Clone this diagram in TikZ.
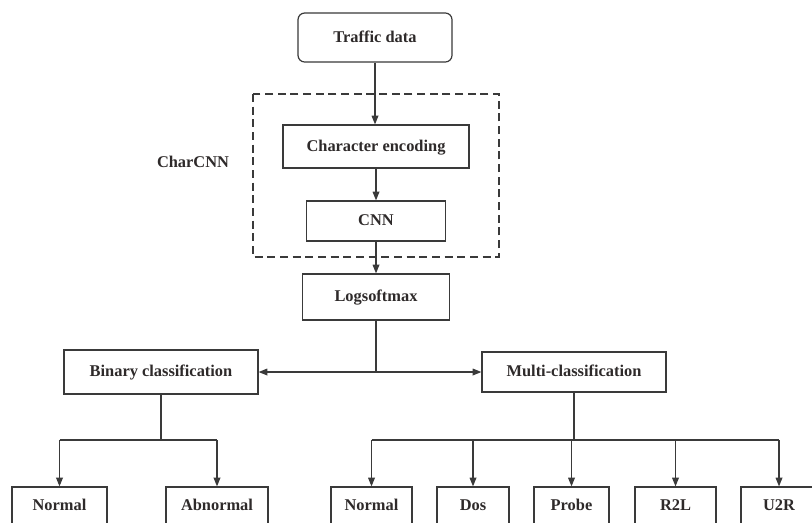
\documentclass[tikz,border=0pt]{standalone}
\usepackage{fontspec}
\setmainfont{Liberation Serif}
\usetikzlibrary{arrows.meta}
\definecolor{ln}{HTML}{3A3A3A}
\definecolor{tx}{HTML}{2E2A2A}
\tikzset{
  box/.style={draw=ln, line width=0.9pt, fill=white, inner sep=0pt, text=tx, text height=1.85ex, text depth=0.3ex, font=\bfseries\fontsize{12.3}{14}\selectfont},
  conn/.style={draw=ln, line width=0.9pt},
  arr/.style={conn, -{Triangle[length=6.5pt,width=5pt]}},
}
\begin{document}
\begin{tikzpicture}[x=0.75pt,y=-0.75pt]
\useasboundingbox (0,0) rectangle (812,522);
\clip (0,0) rectangle (812,522);
\fill[white] (0,0) rectangle (812,522);
% dashed group
\draw[ln, line width=0.9pt, dash pattern=on 6pt off 3.5pt] (253,94) rectangle (499,257);
\node[text=tx, font=\bfseries\fontsize{12.3}{14}\selectfont] (lab) at (193,162) {CharCNN};
% nodes
\node[box, rounded corners=5pt, minimum width=154*0.75pt, minimum height=49*0.75pt] (traffic) at (375,37.5) {Traffic data};
\node[box, minimum width=186*0.75pt, minimum height=43*0.75pt] (enc) at (376,146.5) {Character encoding};
\node[box, minimum width=139*0.75pt, minimum height=40*0.75pt] (cnn) at (376,221) {CNN};
\node[box, minimum width=147*0.75pt, minimum height=46*0.75pt] (log) at (376,297) {Logsoftmax};
\node[box, minimum width=194*0.75pt, minimum height=44*0.75pt] (bin) at (161,372) {Binary classification};
\node[box, minimum width=184*0.75pt, minimum height=40*0.75pt] (multi) at (574,372) {Multi-classification};
\tikzset{leaf/.style={box, minimum height=38*0.75pt}}
\node[leaf, minimum width=95*0.75pt] (n1) at (59.5,506) {Normal};
\node[leaf, minimum width=102*0.75pt] (ab) at (217,506) {Abnormal};
\node[leaf, minimum width=81*0.75pt] (n2) at (371.5,506) {Normal};
\node[leaf, minimum width=72*0.75pt] (dos) at (473,506) {Dos};
\node[leaf, minimum width=75*0.75pt] (probe) at (571.5,506) {Probe};
\node[leaf, minimum width=81*0.75pt] (r2l) at (675.5,506) {R2L};
\node[leaf, minimum width=76*0.75pt] (u2r) at (779,506) {U2R};
% coordinates
\coordinate (split) at (log.south |- bin.east);
\coordinate (bj) at (161,440);
\coordinate (mj) at (574,440);
% connectors
\draw[arr] (traffic.south) -- (enc.north -| traffic.south);
\draw[arr] (enc.south) -- (cnn.north);
\draw[arr] (cnn.south) -- (log.north);
\draw[conn] (log.south) -- (split);
\draw[arr] (split) -- (bin.east);
\draw[arr] (split) -- (multi.west);
\draw[conn] (bin.south) -- (bj);
\draw[conn] (n1.north |- bj) -- (ab.north |- bj);
\draw[arr] (n1.north |- bj) -- (n1.north);
\draw[arr] (ab.north |- bj) -- (ab.north);
\draw[conn] (multi.south) -- (mj);
\draw[conn] (n2.north |- mj) -- (u2r.north |- mj);
\foreach \n in {n2,dos,probe,r2l,u2r} \draw[arr] (\n.north |- mj) -- (\n.north);
\end{tikzpicture}
\end{document}
